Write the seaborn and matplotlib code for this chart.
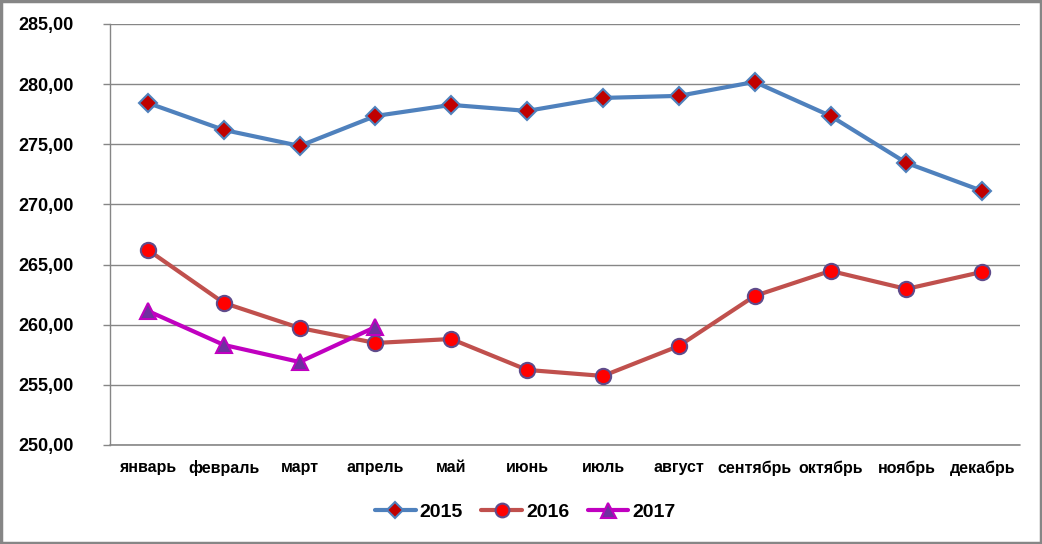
import numpy as np
import pandas as pd
import matplotlib
matplotlib.use("Agg")
import matplotlib.pyplot as plt
import seaborn as sns
from matplotlib.ticker import FuncFormatter

# Данные
months = ["январь", "февраль", "март", "апрель", "май", "июнь",
          "июль", "август", "сентябрь", "октябрь", "ноябрь", "декабрь"]
values_2015 = [278.43, 276.19, 274.86, 277.35, 278.27, 277.77,
               278.85, 279.02, 280.18, 277.35, 273.45, 271.12]
values_2016 = [266.21, 261.81, 259.73, 258.48, 258.81, 256.24,
               255.74, 258.23, 262.39, 264.47, 262.97, 264.39]
values_2017 = [261.14, 258.32, 256.90, 259.81]

sns.set_style("white")
plt.rcParams["font.family"] = ["Liberation Sans", "DejaVu Sans"]
plt.rcParams["text.color"] = "black"
plt.rcParams["xtick.color"] = "black"
plt.rcParams["ytick.color"] = "black"

fig = plt.figure(figsize=(10.42, 5.44), dpi=100)
ax = fig.add_axes([0.1056, 0.182, 0.8734, 0.774])

x_idx = np.arange(len(months))

sns.lineplot(x=x_idx, y=values_2015, ax=ax, color="#4F81BD", linewidth=3,
             marker="D", markersize=9, markerfacecolor="#C00000",
             markeredgecolor="#4F81BD", markeredgewidth=1.5, label="2015")
sns.lineplot(x=x_idx, y=values_2016, ax=ax, color="#C0504D", linewidth=3,
             marker="o", markersize=11, markerfacecolor="#FF0000",
             markeredgecolor="#5F4B8B", markeredgewidth=1.5, label="2016")
sns.lineplot(x=x_idx[:len(values_2017)], y=values_2017, ax=ax, color="#C000C0",
             linewidth=3, marker="^", markersize=12, markerfacecolor="#7030A0",
             markeredgecolor="#C000C0", markeredgewidth=1.5, label="2017")

ax.set_xlim(-0.5, 11.5)
ax.set_ylim(250, 285)
ax.set_yticks(np.arange(250, 286, 5))
ax.yaxis.set_major_formatter(FuncFormatter(lambda v, p: f"{v:.2f}".replace(".", ",")))
ax.set_xticks(x_idx)
ax.set_xticklabels(months)
ax.tick_params(axis="x", length=0, pad=11, labelsize=11.5, labelcolor="black")
ax.tick_params(axis="y", length=5, width=1, color="#868686", pad=21, labelsize=13,
               left=True, labelcolor="black")
for lab in ax.get_xticklabels() + ax.get_yticklabels():
    lab.set_fontweight("bold")

ax.grid(axis="y", color="#868686", linewidth=1)
ax.grid(axis="x", visible=False)
ax.axhline(250, color="#868686", linewidth=1.2, clip_on=False, zorder=0.5)
ax.set_axisbelow(True)
for side in ["top", "right", "bottom"]:
    ax.spines[side].set_visible(False)
ax.spines["left"].set_color("#868686")
ax.spines["left"].set_linewidth(1)
ax.set_xlabel("")
ax.set_ylabel("")

# легенда по центру рисунка внизу
handles, labels = ax.get_legend_handles_labels()
ax.get_legend().remove()
leg = fig.legend(handles, labels, loc="center", bbox_to_anchor=(0.504, 0.059),
                 ncol=3, frameon=False, prop={"weight": "bold", "size": 14},
                 handlelength=2.1, columnspacing=0.95, handletextpad=0.2,
                 markerscale=0.9)
for t in leg.get_texts():
    t.set_color("black")

# рамка вокруг рисунка
fig.patches.append(plt.Rectangle((0.001, 0.002), 0.998, 0.996, transform=fig.transFigure,
                                 fill=False, edgecolor="#868686", linewidth=2.5))

fig.savefig("out.png", dpi=100)
